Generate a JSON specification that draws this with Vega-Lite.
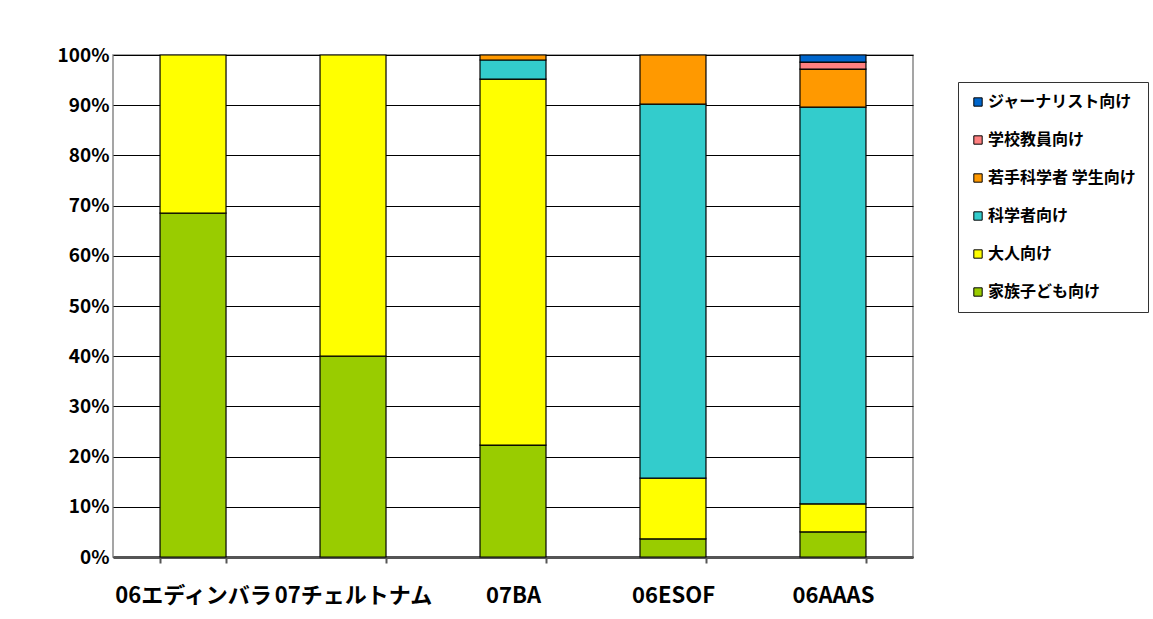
{
  "$schema": "https://vega.github.io/schema/vega-lite/v6.json",
  "autosize": "none",
  "width": 800,
  "height": 502,
  "padding": {"left": 113, "top": 55, "right": 240, "bottom": 62},
  "background": "white",
  "config": {
    "font": "Noto Sans CJK JP",
    "view": {"stroke": "#888888", "strokeWidth": 1.5}
  },
  "data": {
    "values": [
      {"event": "06エディンバラ", "target": "家族子ども向け", "ord": 1, "pct": 68.5},
      {"event": "06エディンバラ", "target": "大人向け", "ord": 2, "pct": 31.5},
      {"event": "07チェルトナム", "target": "家族子ども向け", "ord": 1, "pct": 40.0},
      {"event": "07チェルトナム", "target": "大人向け", "ord": 2, "pct": 60.0},
      {"event": "07BA", "target": "家族子ども向け", "ord": 1, "pct": 22.3},
      {"event": "07BA", "target": "大人向け", "ord": 2, "pct": 72.9},
      {"event": "07BA", "target": "科学者向け", "ord": 3, "pct": 3.8},
      {"event": "07BA", "target": "若手科学者 学生向け", "ord": 4, "pct": 1.0},
      {"event": "06ESOF", "target": "家族子ども向け", "ord": 1, "pct": 3.6},
      {"event": "06ESOF", "target": "大人向け", "ord": 2, "pct": 12.1},
      {"event": "06ESOF", "target": "科学者向け", "ord": 3, "pct": 74.5},
      {"event": "06ESOF", "target": "若手科学者 学生向け", "ord": 4, "pct": 9.8},
      {"event": "06AAAS", "target": "家族子ども向け", "ord": 1, "pct": 5.0},
      {"event": "06AAAS", "target": "大人向け", "ord": 2, "pct": 5.6},
      {"event": "06AAAS", "target": "科学者向け", "ord": 3, "pct": 79.0},
      {"event": "06AAAS", "target": "若手科学者 学生向け", "ord": 4, "pct": 7.6},
      {"event": "06AAAS", "target": "学校教員向け", "ord": 5, "pct": 1.4},
      {"event": "06AAAS", "target": "ジャーナリスト向け", "ord": 6, "pct": 1.4}
    ]
  },
  "mark": {"type": "bar", "stroke": "black", "strokeWidth": 1.2},
  "encoding": {
    "x": {
      "field": "event",
      "type": "nominal",
      "sort": null,
      "scale": {"paddingInner": 0.5875, "paddingOuter": 0.294},
      "axis": {
        "title": null,
        "labelAngle": 0,
        "labelFont": "Noto Sans CJK JP",
        "labelFontSize": 22,
        "labelFontWeight": "bold",
        "labelColor": "black",
        "labelPadding": 22,
        "domainColor": "#555555",
        "domainWidth": 3,
        "tickBand": "extent",
        "tickColor": "#555555",
        "tickWidth": 2,
        "tickSize": 6,
        "ticks": true
      }
    },
    "y": {
      "field": "pct",
      "type": "quantitative",
      "stack": "zero",
      "scale": {"domain": [0, 100], "nice": false},
      "axis": {
        "title": null,
        "values": [0, 10, 20, 30, 40, 50, 60, 70, 80, 90, 100],
        "labelExpr": "datum.value + '%'",
        "labelFont": "Noto Sans CJK JP",
        "labelFontSize": 19,
        "labelFontWeight": "bold",
        "labelColor": "black",
        "labelPadding": 4,
        "grid": true,
        "gridColor": "black",
        "gridWidth": 1,
        "domain": false,
        "ticks": false
      }
    },
    "color": {
      "field": "target",
      "type": "nominal",
      "scale": {
        "domain": ["ジャーナリスト向け", "学校教員向け", "若手科学者 学生向け", "科学者向け", "大人向け", "家族子ども向け"],
        "range": ["#0066cc", "#ff8080", "#ff9900", "#33cccc", "#ffff00", "#99cc00"]
      },
      "legend": {
        "title": null,
        "orient": "none",
        "legendX": 845,
        "legendY": 27,
        "strokeColor": "#333333",
        "padding": 12,
        "symbolType": "square",
        "symbolSize": 70,
        "symbolStrokeColor": "black",
        "symbolStrokeWidth": 1,
        "labelFont": "Noto Sans CJK JP",
        "labelFontSize": 16,
        "labelFontWeight": "bold",
        "labelColor": "black",
        "labelLimit": 300,
        "rowPadding": 22,
        "labelOffset": 2
      }
    },
    "order": {"field": "ord", "type": "quantitative", "sort": "ascending"}
  }
}
